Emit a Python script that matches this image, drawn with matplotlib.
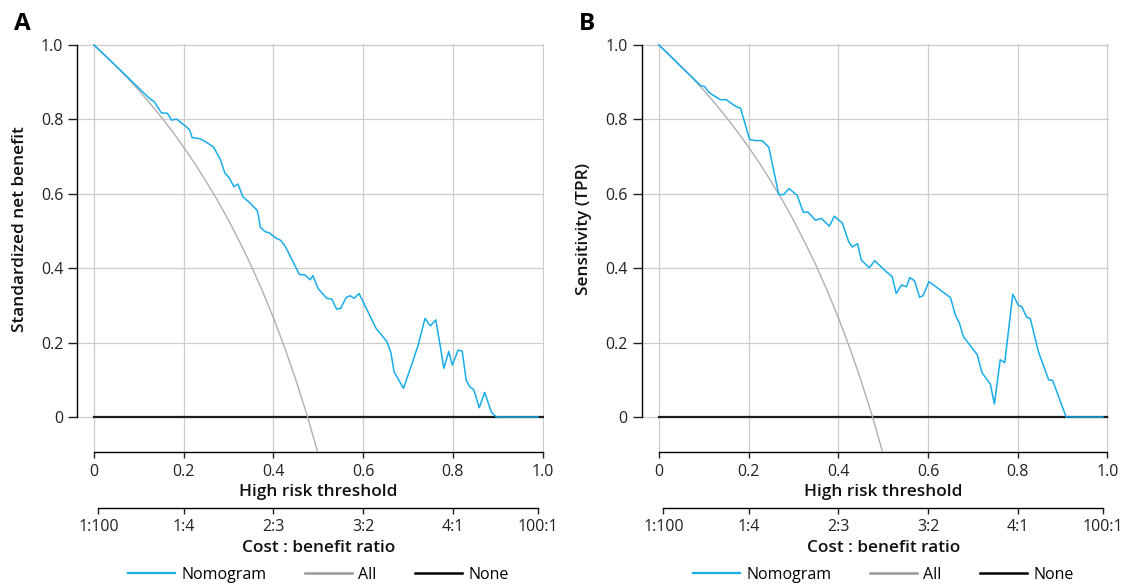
import matplotlib
matplotlib.use("Agg")
import matplotlib.pyplot as plt
from matplotlib.lines import Line2D
from matplotlib.transforms import blended_transform_factory

plt.rcParams["font.family"] = ["Open Sans", "DejaVu Sans"]

# ---- data -------------------------------------------------------------
thresholds_a = [0.000, 0.060, 0.123, 0.134, 0.150, 0.164, 0.173, 0.184, 0.204, 0.213,
                0.219, 0.236, 0.249, 0.267, 0.282, 0.292, 0.301, 0.312, 0.321, 0.332,
                0.349, 0.364, 0.367, 0.371, 0.382, 0.391, 0.403, 0.416, 0.426, 0.458,
                0.470, 0.482, 0.488, 0.500, 0.519, 0.530, 0.541, 0.550, 0.562, 0.571,
                0.580, 0.591, 0.629, 0.653, 0.662, 0.669, 0.690, 0.708, 0.723, 0.738,
                0.750, 0.762, 0.771, 0.780, 0.791, 0.799, 0.812, 0.821, 0.830, 0.838,
                0.847, 0.859, 0.871, 0.886, 0.897, 0.990]
nomogram_a = [1.000, 0.931, 0.857, 0.848, 0.818, 0.816, 0.798, 0.801, 0.782, 0.772,
              0.751, 0.748, 0.740, 0.725, 0.691, 0.655, 0.644, 0.619, 0.626, 0.592,
              0.574, 0.555, 0.538, 0.510, 0.498, 0.495, 0.483, 0.475, 0.460, 0.383,
              0.382, 0.369, 0.380, 0.345, 0.319, 0.317, 0.290, 0.292, 0.321, 0.326,
              0.319, 0.332, 0.238, 0.203, 0.173, 0.122, 0.077, 0.140, 0.194, 0.265,
              0.245, 0.261, 0.198, 0.131, 0.176, 0.140, 0.180, 0.177, 0.098, 0.081,
              0.073, 0.025, 0.066, 0.013, 0.000, 0.000]

thresholds_b = [0.000, 0.048, 0.093, 0.102, 0.111, 0.122, 0.137, 0.150, 0.171, 0.182,
                0.202, 0.215, 0.230, 0.245, 0.267, 0.278, 0.290, 0.308, 0.322, 0.332,
                0.349, 0.362, 0.380, 0.391, 0.409, 0.423, 0.431, 0.443, 0.451, 0.469,
                0.481, 0.503, 0.520, 0.529, 0.541, 0.552, 0.559, 0.570, 0.581, 0.589,
                0.602, 0.650, 0.661, 0.670, 0.679, 0.710, 0.720, 0.739, 0.748, 0.761,
                0.771, 0.789, 0.802, 0.809, 0.820, 0.828, 0.846, 0.869, 0.878, 0.908,
                0.990]
nomogram_b = [1.000, 0.943, 0.891, 0.888, 0.873, 0.864, 0.853, 0.853, 0.835, 0.830,
              0.746, 0.743, 0.743, 0.725, 0.598, 0.598, 0.614, 0.596, 0.550, 0.551,
              0.529, 0.534, 0.513, 0.540, 0.521, 0.471, 0.457, 0.466, 0.422, 0.401,
              0.420, 0.395, 0.377, 0.332, 0.355, 0.350, 0.375, 0.366, 0.322, 0.326,
              0.364, 0.321, 0.274, 0.252, 0.216, 0.167, 0.120, 0.088, 0.035, 0.154,
              0.146, 0.330, 0.299, 0.297, 0.268, 0.265, 0.176, 0.100, 0.098, 0.000,
              0.000]

# treat-all reference curve (shared by both panels)
thresholds_all = [0.000, 0.025, 0.050, 0.075, 0.100, 0.125, 0.150, 0.175, 0.200, 0.225,
                  0.250, 0.275, 0.300, 0.325, 0.350, 0.375, 0.400, 0.425, 0.450, 0.475,
                  0.500]
treat_all = [1.000, 0.972, 0.942, 0.911, 0.878, 0.843, 0.806, 0.767, 0.725, 0.681,
             0.633, 0.583, 0.529, 0.470, 0.408, 0.340, 0.267, 0.187, 0.100, 0.005,
             -0.100]

none_x = [0.0, 1.0]
none_y = [0.0, 0.0]

x_ticks = [0, 0.2, 0.4, 0.6, 0.8, 1.0]
x_ticklabels = ["0", "0.2", "0.4", "0.6", "0.8", "1.0"]
y_ticks = [0, 0.2, 0.4, 0.6, 0.8, 1.0]
y_ticklabels = ["0", "0.2", "0.4", "0.6", "0.8", "1.0"]
cb_ticks = [0.01, 0.2, 0.4, 0.6, 0.8, 0.99]
cb_ticklabels = ["1:100", "1:4", "2:3", "3:2", "4:1", "100:1"]

panels = [
    ("A", "Standardized net benefit", thresholds_a, nomogram_a),
    ("B", "Sensitivity (TPR)", thresholds_b, nomogram_b),
]

# ---- styling ----------------------------------------------------------
W, H = 1135, 586
BLUE = "#17ACEA"
GREY = "#B0B0B0"
DARK = "#1E1E1E"
GRID = "#CDCDCD"
FS = 11.5       # tick labels and legend
LFS = 12.4      # axis titles

fig = plt.figure(figsize=(W / 100, H / 100), dpi=100)

# pixel geometry for each panel: x=0, x=1, left spine, y=1, y=0, bottom spine
geom = [
    dict(x0=94.0, x1=542.5, spine=77.3, y1=45.0, y0=417.0, bottom=452.3),
    dict(x0=659.0, x1=1107.4, spine=641.7, y1=45.0, y0=417.0, bottom=452.3),
]

for (letter, ylabel, tx, ny), g in zip(panels, geom):
    sx = g["x1"] - g["x0"]
    sy = g["y0"] - g["y1"]
    xl = -(g["x0"] - g["spine"]) / sx
    xr = 1.003
    yb = -(g["bottom"] - g["y0"]) / sy
    yt = 1.003
    left_px = g["spine"]
    right_px = g["x0"] + xr * sx
    top_px = g["y0"] - yt * sy
    ax = fig.add_axes([left_px / W, 1 - g["bottom"] / H,
                       (right_px - left_px) / W, (g["bottom"] - top_px) / H])
    ax.set_xlim(xl, xr)
    ax.set_ylim(yb, yt)

    ax.set_xticks(x_ticks)
    ax.set_xticklabels(x_ticklabels)
    ax.set_yticks(y_ticks)
    ax.set_yticklabels(y_ticklabels)
    ax.grid(True, color=GRID, linewidth=0.9, zorder=0)
    ax.set_axisbelow(True)

    for s in ("top", "right"):
        ax.spines[s].set_visible(False)
    ax.spines["left"].set_bounds(0, 1)
    ax.spines["bottom"].set_bounds(0, 1)
    for s in ("left", "bottom"):
        ax.spines[s].set_linewidth(1.0)
        ax.spines[s].set_color("black")
    ax.tick_params(axis="y", length=6.5, width=1.0, pad=3.5, labelsize=FS,
                   colors="#222222")
    ax.tick_params(axis="x", length=4.3, width=1.0, pad=4.0, labelsize=FS,
                   colors="#222222")

    ax.plot(none_x, none_y, color=DARK, linewidth=1.6, zorder=2, label="None")
    ax.plot(thresholds_all, treat_all, color=GREY, linewidth=1.0, zorder=3, label="All")
    ax.plot(tx, ny, color=BLUE, linewidth=1.1, zorder=4, label="Nomogram")

    # cost : benefit ratio axis below the threshold axis
    sec = ax.secondary_xaxis(-55.4 / (g["bottom"] - top_px))
    sec.set_xticks(cb_ticks)
    sec.set_xticklabels(cb_ticklabels)
    sec.spines["bottom"].set_bounds(0.01, 0.99)
    sec.spines["bottom"].set_linewidth(1.0)
    sec.tick_params(axis="x", length=4.3, width=1.0, pad=4.0, labelsize=FS,
                    colors="#222222")

    tr = blended_transform_factory(ax.transData, fig.transFigure)
    ax.text(0.5, 1 - 492 / H, "High risk threshold", transform=tr, ha="center",
            va="center", fontsize=LFS, fontweight="semibold", color="#111111")
    ax.text(0.5, 1 - 548 / H, "Cost : benefit ratio", transform=tr, ha="center",
            va="center", fontsize=LFS, fontweight="semibold", color="#111111")

    lab_x = g["spine"] - 57.5
    fig.text(lab_x / W, 1 - 229 / H, ylabel, rotation=90, ha="center", va="center",
             fontsize=LFS, fontweight="semibold", color="#111111")
    fig.text((g["spine"] - 55) / W, 1 - 23.5 / H, letter, ha="center", va="center",
             fontsize=17.5, fontweight="bold", color="black")

    handles = [Line2D([], [], color=BLUE, linewidth=1.6),
               Line2D([], [], color="#999999", linewidth=1.8),
               Line2D([], [], color="black", linewidth=1.8)]
    ax.legend(handles, ["Nomogram", "All", "None"], loc="center", ncol=3,
              bbox_to_anchor=(0.5, 1 - 575 / H), bbox_transform=tr, frameon=False,
              fontsize=FS, handlelength=2.95, handletextpad=0.4, columnspacing=2.4,
              borderaxespad=0, borderpad=0)

fig.savefig("out.png", dpi=100)
